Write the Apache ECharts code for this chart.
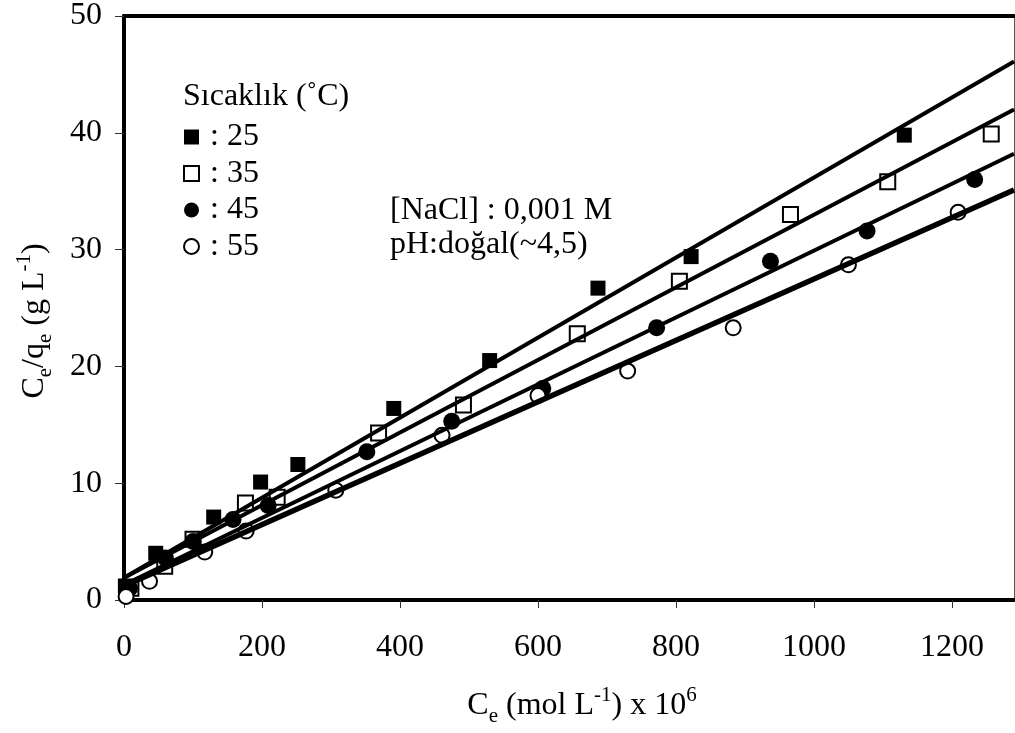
<!DOCTYPE html>
<html>
<head>
<meta charset="utf-8">
<script src="https://cdn.jsdelivr.net/npm/echarts@6/dist/echarts.min.js"></script>
<style>
html,body{margin:0;padding:0;background:#fff;}
#chart{width:1015px;height:733px;}
</style>
</head>
<body>
<div id="chart"></div>
<script>
// ---- data ----
const xTicks = [0, 200, 400, 600, 800, 1000, 1200];
const yTicks = [0, 10, 20, 30, 40, 50];

const legendTitle = 'Sıcaklık (˚C)';
const seriesNames = [': 25', ': 35', ': 45', ': 55'];

const t25 = [[2,1.2],[46,4.0],[130,7.1],[198,10.1],[252,11.6],[391,16.4],[530,20.5],[687,26.7],[822,29.4],[1131,39.8]];
const t35 = [[10,1.0],[59,2.9],[100,5.2],[176,8.3],[222,8.8],[369,14.3],[492,16.7],[657,22.8],[805,27.3],[966,33.0],[1107,35.8],[1257,39.9]];
const t45 = [[8,1.0],[60,3.6],[100,5.0],[158,6.9],[209,8.1],[352,12.7],[475,15.3],[607,18.1],[772,23.3],[937,29.0],[1077,31.6],[1233,36.0]];
const t55 = [[3,0.3],[37,1.6],[117,4.1],[177,5.9],[307,9.4],[461,14.1],[600,17.5],[730,19.6],[883,23.3],[1050,28.7],[1209,33.2]];

// fitted straight lines (end points)
const fit25 = [[0,1.9],[1290,46.1]];
const fit35 = [[0,1.9],[1290,42.0]];
const fit45 = [[0,1.3],[1290,38.2]];
const fit55 = [[0,1.2],[1290,35.1]];

const noteLines = ['[NaCl] : 0,001 M', 'pH:doğal(~4,5)'];

// ---- chart ----
const FONT = 'Liberation Serif';
const FS = 32;
const chart = echarts.init(document.getElementById('chart'), null, {renderer: 'canvas'});

const rich = {
  b: {fontFamily: FONT, fontSize: FS, lineHeight: 42, color: '#000'},
  sub: {fontFamily: FONT, fontSize: 21, lineHeight: 21, verticalAlign: 'bottom', color: '#000'},
  sup: {fontFamily: FONT, fontSize: 21, lineHeight: 21, verticalAlign: 'top', color: '#000'}
};

function scatter(name, data, symbol, size, filled) {
  return {
    name: name, type: 'scatter', data: data, symbol: symbol, symbolSize: size,
    itemStyle: filled ? {color: '#000', borderColor: '#000', borderWidth: 0, opacity: 1}
                      : {color: '#fff', borderColor: '#000', borderWidth: 2, opacity: 1},
    z: 3, silent: true
  };
}
function fit(name, data, w) {
  return {
    name: name, type: 'line', data: data, symbol: 'none', showSymbol: false,
    lineStyle: {color: '#000', width: w}, z: 4, silent: true, clip: true
  };
}

chart.setOption({
  animation: false,
  backgroundColor: '#fff',
  grid: {left: 124, right: 1, top: 16, bottom: 133, containLabel: false},
  xAxis: [{
    type: 'value', min: 0, max: 1290, interval: 200,
    position: 'bottom',
    axisLine: {show: true, onZero: false, lineStyle: {color: '#000', width: 4}},
    axisTick: {show: true, inside: false, length: 8, lineStyle: {color: '#333', width: 1}, customValues: xTicks},
    axisLabel: {show: true, margin: 32, fontFamily: FONT, fontSize: FS, color: '#000', customValues: xTicks,
                formatter: function (v) { return String(v); }},
    splitLine: {show: false},
    name: '{b|C}{sub|e}{b| (mol L}{sup|-1}{b|) x 10}{sup|6}',
    nameLocation: 'middle', nameGap: 85,
    nameTextStyle: {rich: rich, padding: [0, 0, 0, 26]}
  }, {
    type: 'value', min: 0, max: 1290, position: 'top',
    axisLine: {show: true, onZero: false, lineStyle: {color: '#000', width: 4}},
    axisTick: {show: false}, axisLabel: {show: false}, splitLine: {show: false}
  }],
  yAxis: [{
    type: 'value', min: 0, max: 50, interval: 10,
    position: 'left',
    axisLine: {show: true, onZero: false, lineStyle: {color: '#000', width: 4}},
    axisTick: {show: true, inside: false, length: 9, lineStyle: {color: '#333', width: 1}, customValues: yTicks},
    axisLabel: {show: true, margin: 22, fontFamily: FONT, fontSize: FS, color: '#000', customValues: yTicks,
                formatter: function (v) { return String(v); }},
    splitLine: {show: false},
    name: '{b|C}{sub|e}{b|/q}{sub|e}{b| (g L}{sup|-1}{b|)}',
    nameLocation: 'middle', nameGap: 68,
    nameTextStyle: {rich: rich, padding: [0, 26, 0, 0]}
  }, {
    type: 'value', min: 0, max: 50, position: 'right',
    axisLine: {show: true, onZero: false, lineStyle: {color: '#555', width: 1}},
    axisTick: {show: false}, axisLabel: {show: false}, splitLine: {show: false}
  }],
  legend: {
    show: true, orient: 'vertical', left: 183, top: 121, padding: 0,
    itemWidth: 15, itemHeight: 15, itemGap: 4.5,
    selectedMode: false,
    textStyle: {fontFamily: FONT, fontSize: FS, lineHeight: 30, color: '#000', padding: [0, 0, 0, 6]},
    data: seriesNames
  },
  graphic: [
    {type: 'text', x: 183, y: 97, silent: true,
     style: {text: legendTitle, fontFamily: FONT, fontSize: FS, fill: '#000', align: 'left', verticalAlign: 'middle', textAlign: 'left', textVerticalAlign: 'middle'}},
    {type: 'text', x: 390, y: 211, silent: true,
     style: {text: noteLines[0], fontFamily: FONT, fontSize: FS, fill: '#000', align: 'left', verticalAlign: 'middle', textAlign: 'left', textVerticalAlign: 'middle'}},
    {type: 'text', x: 390, y: 245, silent: true,
     style: {text: noteLines[1], fontFamily: FONT, fontSize: FS, fill: '#000', align: 'left', verticalAlign: 'middle', textAlign: 'left', textVerticalAlign: 'middle'}}
  ],
  series: [
    scatter(seriesNames[0], t25, 'rect', 15, true),
    scatter(seriesNames[1], t35, 'rect', 15, false),
    scatter(seriesNames[2], t45, 'circle', 17, true),
    scatter(seriesNames[3], t55, 'circle', 15, false),
    fit('fit25', fit25, 4),
    fit('fit35', fit35, 4),
    fit('fit45', fit45, 4),
    fit('fit55', fit55, 5.5)
  ]
});
</script>
</body>
</html>
